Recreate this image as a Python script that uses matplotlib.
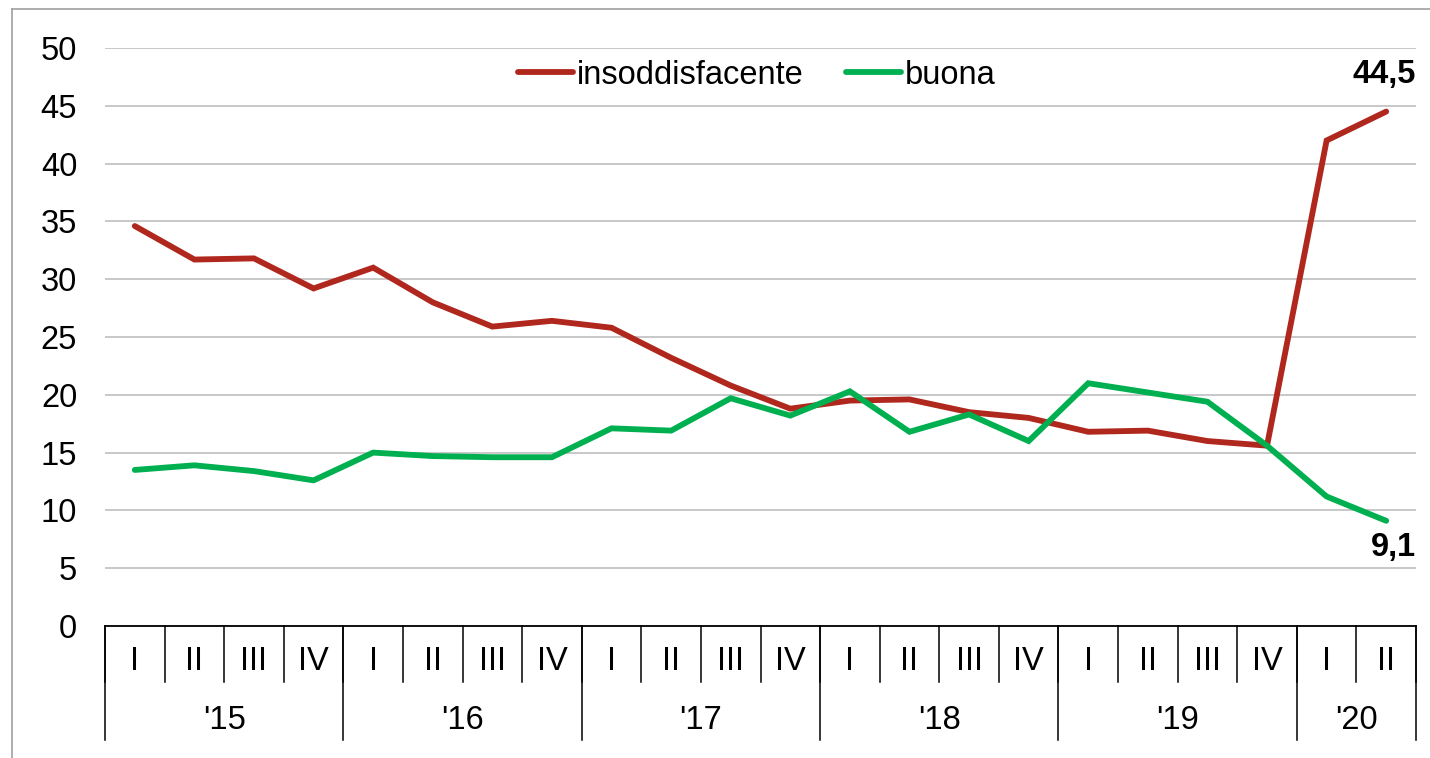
import matplotlib.pyplot as plt
import matplotlib.transforms as mtransforms
from matplotlib.lines import Line2D

plt.rcParams['font.family'] = ['Liberation Sans', 'DejaVu Sans']

# quarters 2015 Q1 .. 2020 Q2
quarters = ['I', 'II', 'III', 'IV'] * 5 + ['I', 'II']
years = ["'15", "'16", "'17", "'18", "'19", "'20"]
year_len = [4, 4, 4, 4, 4, 2]

insoddisfacente = [34.6, 31.7, 31.8, 29.2, 31.0, 28.0, 25.9, 26.4, 25.8, 23.2, 20.8,
                   18.8, 19.5, 19.6, 18.5, 18.0, 16.8, 16.9, 16.0, 15.6, 42.0, 44.5]
buona = [13.5, 13.9, 13.4, 12.6, 15.0, 14.7, 14.6, 14.6, 17.1, 16.9, 19.7,
         18.2, 20.3, 16.8, 18.3, 16.0, 21.0, 20.2, 19.4, 15.6, 11.2, 9.1]

red = '#B0271D'
green = '#00B050'
fs = 23.5

fig = plt.figure(figsize=(14.3, 7.58), dpi=100)
ax = fig.add_axes([105 / 1430, 132 / 758, 1311 / 1430, 578 / 758])

x = list(range(len(quarters)))
ax.plot(x, insoddisfacente, color=red, lw=4.2, solid_capstyle='round',
        solid_joinstyle='miter', label='insoddisfacente')
ax.plot(x, buona, color=green, lw=4.2, solid_capstyle='round',
        solid_joinstyle='miter', label='buona')

ax.set_xlim(-0.5, len(quarters) - 0.5)
ax.set_ylim(0, 50)
ax.set_yticks(range(0, 51, 5))
ax.tick_params(axis='y', length=0, pad=20, labelsize=fs)
ax.grid(axis='y', color='#C8C8C8', lw=1.4)
ax.set_axisbelow(True)
for s in ['left', 'right', 'top']:
    ax.spines[s].set_visible(False)
ax.spines['bottom'].set_color('black')
ax.spines['bottom'].set_linewidth(1.3)

# two-level category axis
ax.set_xticks(x)
ax.set_xticklabels([])
ax.tick_params(axis='x', length=0)
trans = mtransforms.blended_transform_factory(ax.transData, ax.transAxes)
for i, q in enumerate(quarters):
    ax.text(i, -0.062, q, transform=trans, ha='center', va='center', fontsize=fs)
for b in range(len(quarters) + 1):
    ax.plot([b - 0.5, b - 0.5], [0, -0.097], transform=trans, color='black',
            lw=1.1, clip_on=False)
start = 0
for y, n in zip(years, year_len):
    ax.text(start + n / 2 - 0.5, -0.163, y, transform=trans, ha='center',
            va='center', fontsize=fs)
    ax.plot([start - 0.5, start - 0.5], [0, -0.197], transform=trans,
            color='black', lw=1.1, clip_on=False)
    start += n
ax.plot([start - 0.5, start - 0.5], [0, -0.197], transform=trans,
        color='black', lw=1.1, clip_on=False)

# end labels
ax.annotate('44,5', (x[-1], insoddisfacente[-1]), xytext=(30, 37),
            textcoords='offset pixels', ha='right', va='center',
            fontsize=fs, fontweight='bold')
ax.annotate('9,1', (x[-1], buona[-1]), xytext=(30, -27),
            textcoords='offset pixels', ha='right', va='center',
            fontsize=fs, fontweight='bold')

ax.legend(loc='center', bbox_to_anchor=(0.497, 0.953), ncol=2, frameon=False,
          fontsize=fs, handlelength=1.7, handletextpad=0.1, columnspacing=1.3)

# outer frame (left and top edges visible)
fig.add_artist(Line2D([12 / 1430, 12 / 1430], [0, 1 - 9 / 758],
                      transform=fig.transFigure, color='#A0A0A0', lw=1.2))
fig.add_artist(Line2D([12 / 1430, 1], [1 - 9 / 758, 1 - 9 / 758],
                      transform=fig.transFigure, color='#A0A0A0', lw=1.2))

fig.savefig('out.png', dpi=100)
